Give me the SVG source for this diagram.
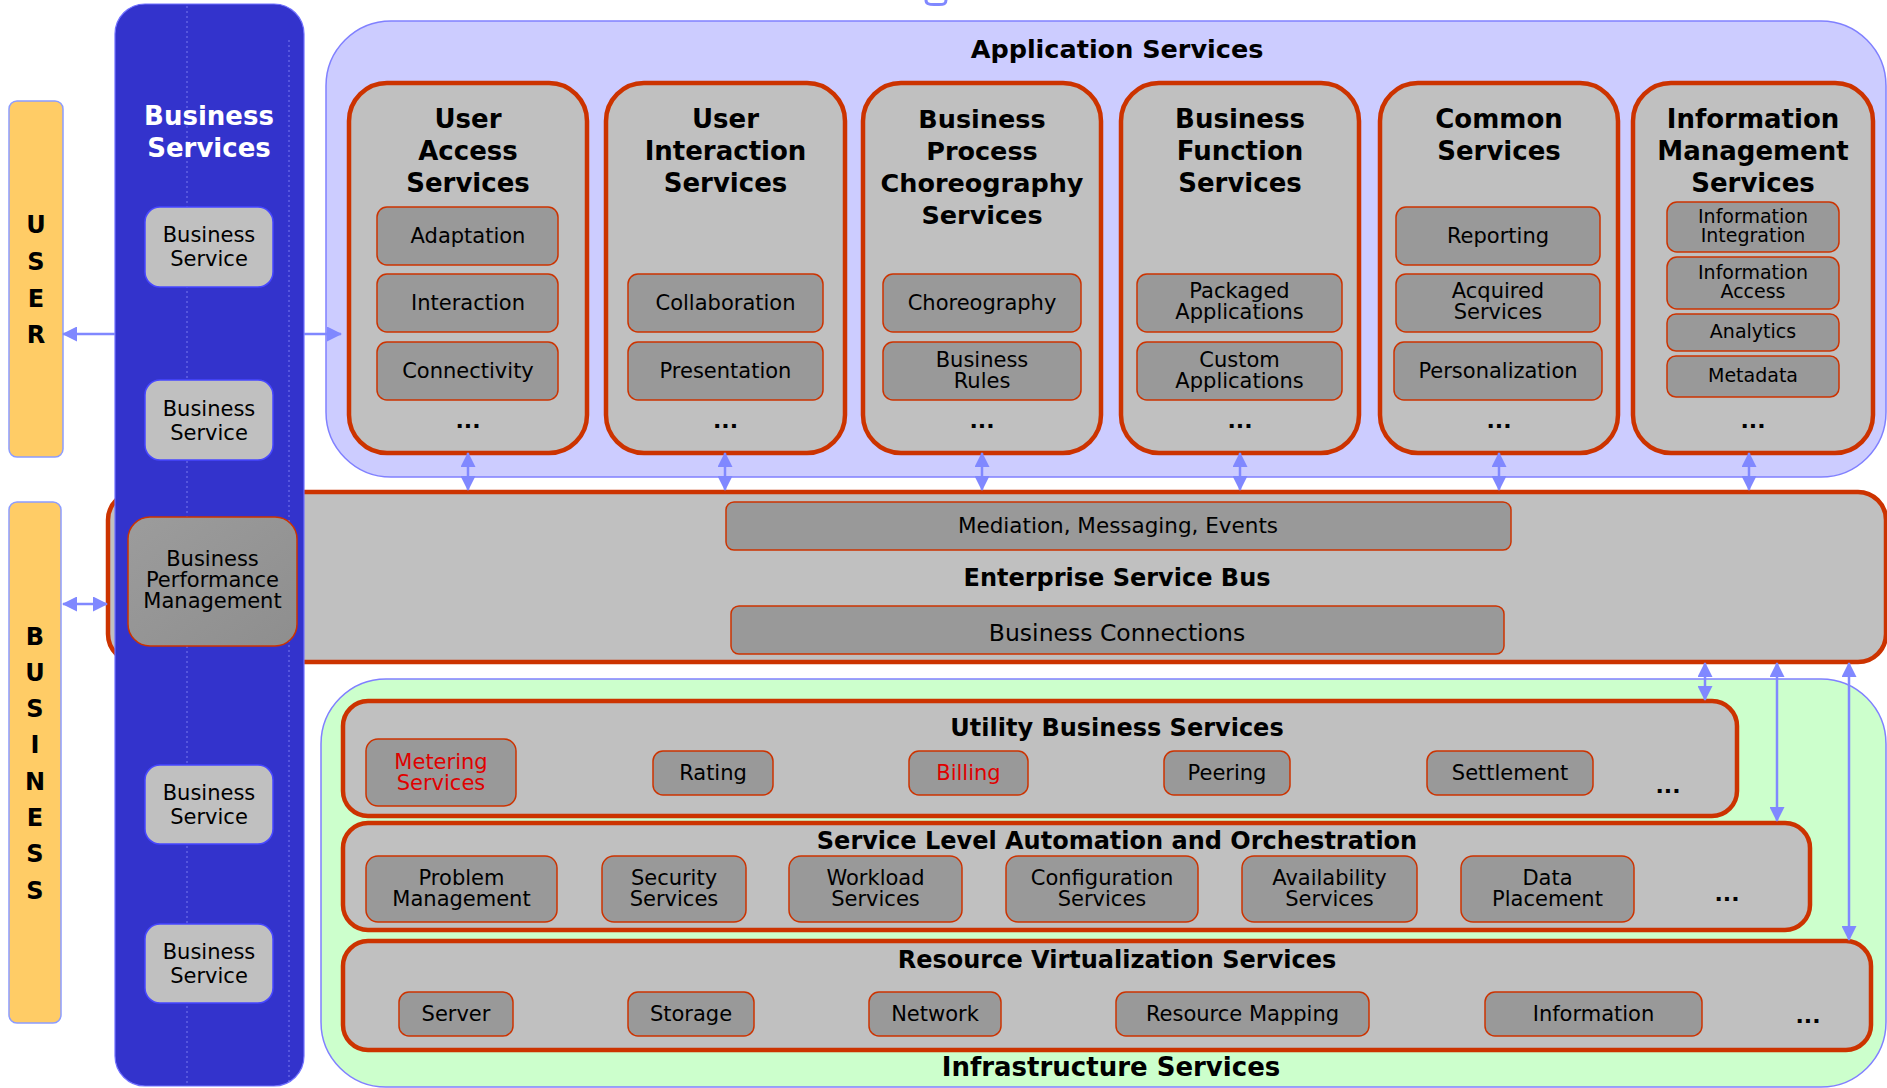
<svg xmlns="http://www.w3.org/2000/svg" width="1887" height="1088" viewBox="0 0 1887 1088">
<style>
.t{font-family:"DejaVu Sans",Verdana,sans-serif;text-anchor:middle;fill:#000}
.b{font-weight:bold}
.s21{font-size:21px}
.s19{font-size:19px}
.s24{font-size:24px}
.s26{font-size:26px}
.red{fill:#e00000}
.col{fill:#c0c0c0;stroke:#cc3300;stroke-width:4.5}
.band{fill:#c0c0c0;stroke:#cc3300;stroke-width:4.5}
.item{fill:#999999;stroke:#cc3300;stroke-width:1.5}
.bs{fill:#c0c0c0;stroke:#4747ff;stroke-width:1.5}
.yel{fill:#ffcc66;stroke:#8c9cff;stroke-width:1.5}
.conn{stroke:#8088ff;stroke-width:2.5;fill:none}
</style>
<defs>
<marker id="ah" viewBox="0 0 15 15" markerWidth="15" markerHeight="15" refX="14" refY="7.5" orient="auto-start-reverse" markerUnits="userSpaceOnUse">
<path d="M0,0 L15,7.5 L0,15 z" fill="#8088ff"/>
</marker>
<linearGradient id="bpmg" x1="0" y1="0" x2="1" y2="1">
<stop offset="0" stop-color="#9c9c9c"/>
<stop offset="1" stop-color="#8e8e8e"/>
</linearGradient>
</defs>
<rect width="1887" height="1088" fill="#ffffff"/>

<!-- small element cut at top -->
<path d="M926,0 C926,4 929,4.5 934,4.5 L939,4.5 C944,4.5 946,4 946,0" fill="none" stroke="#8088ff" stroke-width="3"/>

<!-- Application Services container -->
<g id="application-services">
<rect x="326" y="21" width="1560" height="456" rx="65" fill="#ccccff" stroke="#8080ff" stroke-width="1.5"/>
<text class="t b" x="1117" y="58" font-size="25.5">Application Services</text>
</g>

<g id="user-access-services">
<rect class="col" x="349" y="83" width="238" height="370" rx="38"/>
<text class="t b s26"><tspan x="468" y="128">User</tspan><tspan x="468" y="160">Access</tspan><tspan x="468" y="192">Services</tspan></text>
<rect class="item" x="377" y="207" width="181" height="58" rx="10"/>
<text class="t s21" x="468" y="243">Adaptation</text>
<rect class="item" x="377" y="274" width="181" height="58" rx="10"/>
<text class="t s21" x="468" y="310">Interaction</text>
<rect class="item" x="377" y="342" width="181" height="58" rx="10"/>
<text class="t s21" x="468" y="378">Connectivity</text>
<text class="t b" font-size="22" x="468" y="428">...</text>
</g>

<g id="user-interaction-services">
<rect class="col" x="606" y="83" width="239" height="370" rx="38"/>
<text class="t b s26"><tspan x="725.5" y="128">User</tspan><tspan x="725.5" y="160">Interaction</tspan><tspan x="725.5" y="192">Services</tspan></text>
<rect class="item" x="628" y="274" width="195" height="58" rx="10"/>
<text class="t s21" x="725.5" y="310">Collaboration</text>
<rect class="item" x="628" y="342" width="195" height="58" rx="10"/>
<text class="t s21" x="725.5" y="378">Presentation</text>
<text class="t b" font-size="22" x="725.5" y="428">...</text>
</g>

<g id="business-process-choreography-services">
<rect class="col" x="863" y="83" width="238" height="370" rx="38"/>
<text class="t b" font-size="25.5"><tspan x="982" y="128">Business</tspan><tspan x="982" y="160">Process</tspan><tspan x="982" y="192">Choreography</tspan><tspan x="982" y="224">Services</tspan></text>
<rect class="item" x="883" y="274" width="198" height="58" rx="10"/>
<text class="t s21" x="982" y="310">Choreography</text>
<rect class="item" x="883" y="342" width="198" height="58" rx="10"/>
<text class="t s21"><tspan x="982" y="367">Business</tspan><tspan x="982" y="388">Rules</tspan></text>
<text class="t b" font-size="22" x="982" y="428">...</text>
</g>

<g id="business-function-services">
<rect class="col" x="1121" y="83" width="238" height="370" rx="38"/>
<text class="t b s26"><tspan x="1240" y="128">Business</tspan><tspan x="1240" y="160">Function</tspan><tspan x="1240" y="192">Services</tspan></text>
<rect class="item" x="1137" y="274" width="205" height="58" rx="10"/>
<text class="t s21"><tspan x="1239.5" y="298">Packaged</tspan><tspan x="1239.5" y="319">Applications</tspan></text>
<rect class="item" x="1137" y="342" width="205" height="58" rx="10"/>
<text class="t s21"><tspan x="1239.5" y="367">Custom</tspan><tspan x="1239.5" y="388">Applications</tspan></text>
<text class="t b" font-size="22" x="1240" y="428">...</text>
</g>

<g id="common-services">
<rect class="col" x="1380" y="83" width="238" height="370" rx="38"/>
<text class="t b s26"><tspan x="1499" y="128">Common</tspan><tspan x="1499" y="160">Services</tspan></text>
<rect class="item" x="1396" y="207" width="204" height="58" rx="10"/>
<text class="t s21" x="1498" y="243">Reporting</text>
<rect class="item" x="1396" y="274" width="204" height="58" rx="10"/>
<text class="t s21"><tspan x="1498" y="298">Acquired</tspan><tspan x="1498" y="319">Services</tspan></text>
<rect class="item" x="1394" y="342" width="208" height="58" rx="10"/>
<text class="t s21" x="1498" y="378">Personalization</text>
<text class="t b" font-size="22" x="1499" y="428">...</text>
</g>

<g id="information-management-services">
<rect class="col" x="1633" y="83" width="240" height="370" rx="38"/>
<text class="t b s26"><tspan x="1753" y="128">Information</tspan><tspan x="1753" y="160">Management</tspan><tspan x="1753" y="192">Services</tspan></text>
<rect class="item" x="1667" y="202" width="172" height="50" rx="10"/>
<text class="t s19"><tspan x="1753" y="223">Information</tspan><tspan x="1753" y="242">Integration</tspan></text>
<rect class="item" x="1667" y="257" width="172" height="52" rx="10"/>
<text class="t s19"><tspan x="1753" y="279">Information</tspan><tspan x="1753" y="298">Access</tspan></text>
<rect class="item" x="1667" y="314" width="172" height="37" rx="9"/>
<text class="t s19" x="1753" y="338">Analytics</text>
<rect class="item" x="1667" y="356" width="172" height="41" rx="9"/>
<text class="t s19" x="1753" y="382">Metadata</text>
<text class="t b" font-size="22" x="1753" y="428">...</text>
</g>

<!-- Infrastructure Services container -->
<g id="infrastructure-services">
<rect x="321" y="679" width="1565" height="408" rx="65" fill="#ccffcc" stroke="#8080ff" stroke-width="1.5"/>
<text class="t b s26" x="1111" y="1076">Infrastructure Services</text>
</g>

<g id="utility-business-services">
<rect class="band" x="343" y="701" width="1394" height="115" rx="25"/>
<text class="t b s24" x="1117" y="736">Utility Business Services</text>
<rect class="item" x="366" y="739" width="150" height="67" rx="12"/>
<text class="t s21 red"><tspan x="441" y="769">Metering</tspan><tspan x="441" y="790">Services</tspan></text>
<rect class="item" x="653" y="751" width="120" height="44" rx="10"/>
<text class="t s21" x="713" y="780">Rating</text>
<rect class="item" x="909" y="751" width="119" height="44" rx="10"/>
<text class="t s21 red" x="968.5" y="780">Billing</text>
<rect class="item" x="1164" y="751" width="126" height="44" rx="10"/>
<text class="t s21" x="1227" y="780">Peering</text>
<rect class="item" x="1427" y="751" width="166" height="44" rx="10"/>
<text class="t s21" x="1510" y="780">Settlement</text>
<text class="t b" font-size="22" x="1668" y="793">...</text>
</g>

<g id="service-level-automation">
<rect class="band" x="343" y="823" width="1467" height="107" rx="25"/>
<text class="t b s24" x="1117" y="849">Service Level Automation and Orchestration</text>
<rect class="item" x="366" y="856" width="191" height="66" rx="12"/>
<text class="t s21"><tspan x="461.5" y="885">Problem</tspan><tspan x="461.5" y="906">Management</tspan></text>
<rect class="item" x="602" y="856" width="144" height="66" rx="12"/>
<text class="t s21"><tspan x="674" y="885">Security</tspan><tspan x="674" y="906">Services</tspan></text>
<rect class="item" x="789" y="856" width="173" height="66" rx="12"/>
<text class="t s21"><tspan x="875.5" y="885">Workload</tspan><tspan x="875.5" y="906">Services</tspan></text>
<rect class="item" x="1006" y="856" width="192" height="66" rx="12"/>
<text class="t s21"><tspan x="1102" y="885">Configuration</tspan><tspan x="1102" y="906">Services</tspan></text>
<rect class="item" x="1242" y="856" width="175" height="66" rx="12"/>
<text class="t s21"><tspan x="1329.5" y="885">Availability</tspan><tspan x="1329.5" y="906">Services</tspan></text>
<rect class="item" x="1461" y="856" width="173" height="66" rx="12"/>
<text class="t s21"><tspan x="1547.5" y="885">Data</tspan><tspan x="1547.5" y="906">Placement</tspan></text>
<text class="t b" font-size="22" x="1727" y="901">...</text>
</g>

<g id="resource-virtualization-services">
<rect class="band" x="343" y="941" width="1528" height="109" rx="25"/>
<text class="t b s24" x="1117" y="968">Resource Virtualization Services</text>
<rect class="item" x="399" y="992" width="114" height="44" rx="10"/>
<text class="t s21" x="456" y="1021">Server</text>
<rect class="item" x="628" y="992" width="126" height="44" rx="10"/>
<text class="t s21" x="691" y="1021">Storage</text>
<rect class="item" x="869" y="992" width="132" height="44" rx="10"/>
<text class="t s21" x="935" y="1021">Network</text>
<rect class="item" x="1116" y="992" width="253" height="44" rx="10"/>
<text class="t s21" x="1242.5" y="1021">Resource Mapping</text>
<rect class="item" x="1485" y="992" width="217" height="44" rx="10"/>
<text class="t s21" x="1593.5" y="1021">Information</text>
<text class="t b" font-size="22" x="1808" y="1023">...</text>
</g>

<!-- Enterprise Service Bus -->
<g id="enterprise-service-bus">
<rect class="band" x="108" y="492" width="1778" height="170" rx="28"/>
<rect class="item" x="726" y="502" width="785" height="48" rx="8"/>
<text class="t" font-size="21.5" x="1118" y="533">Mediation, Messaging, Events</text>
<text class="t b s24" x="1117" y="586">Enterprise Service Bus</text>
<rect class="item" x="731" y="606" width="773" height="48" rx="8"/>
<text class="t" font-size="23.5" x="1117" y="641">Business Connections</text>
</g>

<!-- Business Services column -->
<g id="business-services">
<rect x="115" y="4" width="189" height="1082" rx="30" fill="#3333cc" stroke="#7070ff" stroke-width="1.2"/>
<line x1="187" y1="6" x2="187" y2="1084" stroke="#9a9aff" stroke-width="1" stroke-dasharray="2 3" opacity="0.7"/>
<line x1="289" y1="40" x2="289" y2="1084" stroke="#9a9aff" stroke-width="1" stroke-dasharray="2 3" opacity="0.7"/>
<text class="t b s26" style="fill:#ffffff"><tspan x="209" y="125">Business</tspan><tspan x="209" y="157">Services</tspan></text>
</g>

<g id="business-service-1">
<rect class="bs" x="145" y="207" width="128" height="80" rx="15"/>
<text class="t s21"><tspan x="209" y="242">Business</tspan><tspan x="209" y="266">Service</tspan></text>
</g>
<g id="business-service-2">
<rect class="bs" x="145" y="380" width="128" height="80" rx="15"/>
<text class="t s21"><tspan x="209" y="416">Business</tspan><tspan x="209" y="440">Service</tspan></text>
</g>
<g id="business-performance-management">
<rect x="128" y="517" width="169" height="129" rx="22" fill="url(#bpmg)" stroke="#cc3300" stroke-width="1.5"/>
<text class="t s21"><tspan x="212.5" y="566">Business</tspan><tspan x="212.5" y="587">Performance</tspan><tspan x="212.5" y="608">Management</tspan></text>
</g>
<g id="business-service-3">
<rect class="bs" x="145" y="765" width="128" height="79" rx="15"/>
<text class="t s21"><tspan x="209" y="800">Business</tspan><tspan x="209" y="824">Service</tspan></text>
</g>
<g id="business-service-4">
<rect class="bs" x="145" y="924" width="128" height="79" rx="15"/>
<text class="t s21"><tspan x="209" y="959">Business</tspan><tspan x="209" y="983">Service</tspan></text>
</g>

<!-- USER / BUSINESS bars -->
<g id="user">
<rect class="yel" x="9" y="101" width="54" height="356" rx="8"/>
<text class="t b s24"><tspan x="36" y="233">U</tspan><tspan x="36" y="270">S</tspan><tspan x="36" y="307">E</tspan><tspan x="36" y="343">R</tspan></text>
</g>
<g id="business">
<rect class="yel" x="9" y="502" width="52" height="521" rx="8"/>
<text class="t b s24"><tspan x="35" y="645">B</tspan><tspan x="35" y="681">U</tspan><tspan x="35" y="717">S</tspan><tspan x="35" y="753">I</tspan><tspan x="35" y="790">N</tspan><tspan x="35" y="826">E</tspan><tspan x="35" y="862">S</tspan><tspan x="35" y="899">S</tspan></text>
</g>

<!-- Connectors -->
<g id="connectors" class="conn">
<line x1="115" y1="334" x2="63" y2="334" marker-end="url(#ah)"/>
<line x1="304" y1="334" x2="341" y2="334" marker-end="url(#ah)"/>
<line x1="63" y1="604" x2="107" y2="604" marker-start="url(#ah)" marker-end="url(#ah)"/>
<line x1="468" y1="453" x2="468" y2="490" marker-start="url(#ah)" marker-end="url(#ah)"/>
<line x1="725" y1="453" x2="725" y2="490" marker-start="url(#ah)" marker-end="url(#ah)"/>
<line x1="982" y1="453" x2="982" y2="490" marker-start="url(#ah)" marker-end="url(#ah)"/>
<line x1="1240" y1="453" x2="1240" y2="490" marker-start="url(#ah)" marker-end="url(#ah)"/>
<line x1="1499" y1="453" x2="1499" y2="490" marker-start="url(#ah)" marker-end="url(#ah)"/>
<line x1="1749" y1="453" x2="1749" y2="490" marker-start="url(#ah)" marker-end="url(#ah)"/>
<line x1="1705" y1="663" x2="1705" y2="700" marker-start="url(#ah)" marker-end="url(#ah)"/>
<line x1="1777" y1="663" x2="1777" y2="821" marker-start="url(#ah)" marker-end="url(#ah)"/>
<line x1="1849" y1="663" x2="1849" y2="940" marker-start="url(#ah)" marker-end="url(#ah)"/>
</g>
</svg>
